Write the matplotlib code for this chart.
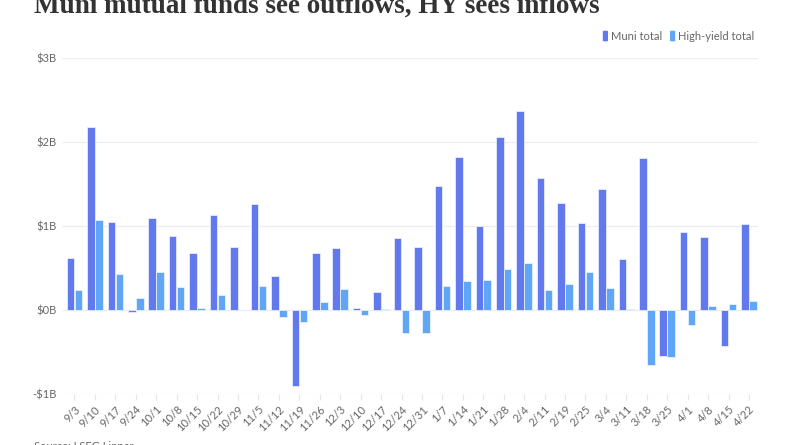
import matplotlib
matplotlib.use("Agg")
import matplotlib.pyplot as plt
import numpy as np
from matplotlib.patches import FancyBboxPatch

weeks = ["9/3", "9/10", "9/17", "9/24", "10/1", "10/8", "10/15", "10/22", "10/29",
         "11/5", "11/12", "11/19", "11/26", "12/3", "12/10", "12/17", "12/24", "12/31",
         "1/7", "1/14", "1/21", "1/28", "2/4", "2/11", "2/19", "2/25", "3/4", "3/11",
         "3/18", "3/25", "4/1", "4/8", "4/15", "4/22"]

muni_total = [0.62, 2.18, 1.05, -0.02, 1.09, 0.88, 0.68, 1.125, 0.75,
              1.26, 0.41, -0.91, 0.68, 0.74, 0.025, 0.22, 0.855, 0.75,
              1.48, 1.825, 0.995, 2.06, 2.37, 1.575, 1.27, 1.03, 1.44, 0.61,
              1.805, -0.545, 0.93, 0.867, -0.43, 1.02]

hy_total = [0.24, 1.07, 0.43, 0.14, 0.45, 0.27, 0.02, 0.18, 0.005,
            0.28, -0.08, -0.14, 0.10, 0.25, -0.065, 0.015, -0.27, -0.27,
            0.29, 0.345, 0.355, 0.485, 0.565, 0.235, 0.305, 0.457, 0.267, 0.015,
            -0.65, -0.557, -0.175, 0.05, 0.075, 0.11]

y_ticks = [-1, 0, 1, 2, 3]
y_labels = ["-$1B", "$0B", "$1B", "$2B", "$3B"]

MUNI_C = "#6279ee"
HY_C = "#60a6f4"
TXT = "#666666"

plt.rcParams['font.family'] = ['Lato', 'DejaVu Sans']

fig = plt.figure(figsize=(8, 4.45), dpi=100)
ax = fig.add_axes([0.0775, 0.1146, 0.87, 0.7551])

x = np.arange(len(weeks))
w = 0.37
ax.bar(x - 0.195, muni_total, width=w, color=MUNI_C, edgecolor="#e8ecff", linewidth=0.6, zorder=3)
ax.bar(x + 0.195, hy_total, width=w, color=HY_C, edgecolor="#e6f1ff", linewidth=0.6, zorder=3)

ax.set_ylim(-1, 3)
ax.set_xlim(-0.61, 33.44)
ax.set_yticks(y_ticks)
ax.set_yticklabels(y_labels)
ax.grid(axis='y', color="#eeeeee", linewidth=0.9, zorder=0)
for s in ax.spines.values():
    s.set_visible(False)
ax.tick_params(axis='y', length=0, pad=4, labelsize=8, labelcolor=TXT)
ax.set_xticks(x)
ax.set_xticklabels(weeks, rotation=45, ha='right', rotation_mode='anchor')
ax.tick_params(axis='x', length=4, width=0.8, color="#e6e6e6", pad=3, labelsize=8, labelcolor=TXT)

fig.text(0.043, 0.971, "Muni mutual funds see outflows, HY sees inflows",
         family=['Liberation Serif'], fontweight='bold', fontsize=19.5, color="#333333",
         va='baseline', ha='left')

# legend
def legend_item(xf, color, label):
    fig.patches.append(FancyBboxPatch((xf, 0.907), 0.0065, 0.024, boxstyle="round,pad=0,rounding_size=0.002",
                                      transform=fig.transFigure, facecolor=color, edgecolor='none'))
    fig.text(xf + 0.0105, 0.919, label, fontsize=8, color=TXT, va='center', ha='left')

legend_item(0.7535, MUNI_C, "Muni total")
legend_item(0.8375, HY_C, "High-yield total")

fig.text(0.043, 0.009, "Source: LSEG Lipper", fontsize=8, color=TXT, va='top', ha='left')

fig.savefig("out.png", dpi=100)
